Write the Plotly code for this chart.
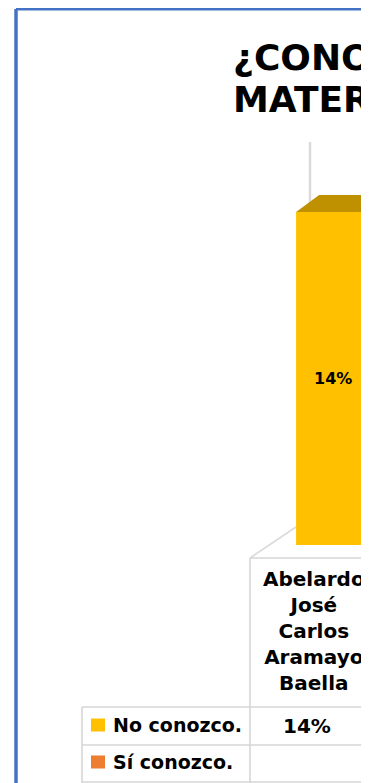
import plotly.graph_objects as go

# ---------------- data ----------------
categories = ["Abelardo José Carlos Aramayo Baella"]
series_names = ["No conozco.", "Sí conozco."]
no_conozco = [14]          # percent
si_conozco = [None]        # blank in the table
series_colors = ["#FFC000", "#ED7D31"]
top_face_color = "#BF9000"
title_lines = ["¿CONOCES EL", "MATERIAL?"]

# ---------------- geometry (page pixels) ----------------
PAGE_OFF = 8                 # default body margin of the html page
W, H = 361 - PAGE_OFF, 783 - PAGE_OFF
def fx(p):
    return (p - PAGE_OFF) / W
def fy(p):
    return 1 - (p - PAGE_OFF) / H

plot_left, plot_right = 250, 361
plot_top, plot_bottom = 142, 545
cell_px = 128                       # width of one category column
y_max = 16.94                       # axis top (percent)
bar_offset, bar_width = -0.14, 0.58
depth_dx, depth_dy = 0.18, 0.715    # 3-D top-face offset in data units
FONT = "DejaVu Sans"
GRID = "#D6D6D6"

fig = go.Figure()

fig.add_trace(go.Bar(
    x=[0], y=no_conozco, name=series_names[0],
    marker=dict(color=series_colors[0], line=dict(width=0)),
    width=bar_width, offset=bar_offset,
    text=[f"{v}%" for v in no_conozco], textposition="inside",
    insidetextanchor="middle", textangle=0,
    textfont=dict(family=FONT, size=16, color="black", weight="bold"),
    showlegend=False, hoverinfo="skip",
))
fig.add_trace(go.Bar(
    x=[0], y=si_conozco, name=series_names[1],
    marker=dict(color=series_colors[1]), showlegend=False, hoverinfo="skip",
))

# 3-D top face of the bar, derived from the value
for v in no_conozco:
    L = bar_offset
    R = L + bar_width
    fig.add_trace(go.Scatter(
        x=[L, L + depth_dx, R + depth_dx, R, L],
        y=[v, v + depth_dy, v + depth_dy, v, v],
        mode="lines", fill="toself", fillcolor=top_face_color,
        line=dict(width=0, color=top_face_color),
        showlegend=False, hoverinfo="skip",
    ))

x_start = -0.5
fig.update_xaxes(
    domain=[fx(plot_left), fx(plot_right)],
    range=[x_start, x_start + (plot_right - plot_left) / cell_px],
    visible=False, fixedrange=True,
)
fig.update_yaxes(
    domain=[fy(plot_bottom), fy(plot_top)],
    range=[0, y_max], visible=False, fixedrange=True,
)

shapes = []
def line(x0, y0, x1, y1, color=GRID, width=1.6, layer="above"):
    shapes.append(dict(type="line", xref="paper", yref="paper",
                       x0=fx(x0), y0=fy(y0), x1=fx(x1), y1=fy(y1),
                       line=dict(color=color, width=width), layer=layer))

# back wall edge and floor edge
line(310, 142, 310, 530, color="#DADADA", width=2.5, layer="below")
line(250, 558, 296, 527, color="#DADADA", width=1.6, layer="below")

# data table grid
line(250, 558, 361, 558)
line(250, 558, 250, 783)
line(82, 707, 361, 707)
line(82, 745, 361, 745)
line(82, 782, 361, 782)
line(82, 707, 82, 783)

# chart border (blue)
line(16, 9, 16, 783, color="#4472C4", width=3.5)
line(16, 9, 361, 9, color="#4472C4", width=3.0)

# legend keys
key_rows = [725, 762]
for yc, col in zip(key_rows, series_colors):
    shapes.append(dict(type="rect", xref="paper", yref="paper",
                       x0=fx(91), x1=fx(105), y0=fy(yc - 6.5), y1=fy(yc + 6.5),
                       fillcolor=col, line=dict(width=0)))

annotations = []
# title
for txt, yc in zip(title_lines, [57, 100]):
    annotations.append(dict(text=txt, xref="paper", yref="paper",
                            x=fx(231), y=fy(yc), xanchor="left", yanchor="middle",
                            showarrow=False,
                            font=dict(family=FONT, size=36, color="black", weight="bold")))
# category header in data table
for i, cat in enumerate(categories):
    annotations.append(dict(text="<br>".join(cat.split(" ")), xref="x", yref="paper",
                            x=i, y=fy(631), xanchor="center", yanchor="middle",
                            align="center", showarrow=False,
                            font=dict(family=FONT, size=20, color="black", weight="bold")))
# table values
for i, v in enumerate(no_conozco):
    annotations.append(dict(text=f"{v}%", xref="x", yref="paper",
                            x=i, y=fy(726), xshift=-7, xanchor="center", yanchor="middle",
                            showarrow=False,
                            font=dict(family=FONT, size=20, color="black", weight="bold")))
for i, v in enumerate(si_conozco):
    if v is not None:
        annotations.append(dict(text=f"{v}%", xref="x", yref="paper",
                                x=i, y=fy(763), xshift=-7, xanchor="center", yanchor="middle",
                                showarrow=False,
                                font=dict(family=FONT, size=20, color="black", weight="bold")))
# legend labels
for name, yc in zip(series_names, key_rows):
    annotations.append(dict(text=name, xref="paper", yref="paper",
                            x=fx(111), y=fy(yc), xanchor="left", yanchor="middle",
                            showarrow=False,
                            font=dict(family=FONT, size=19, color="black", weight="bold")))

fig.update_layout(
    width=W, height=H,
    margin=dict(l=0, r=0, t=0, b=0),
    paper_bgcolor="white", plot_bgcolor="rgba(0,0,0,0)",
    barmode="overlay", showlegend=False,
    shapes=shapes, annotations=annotations,
)

fig.write_html("out.html")
